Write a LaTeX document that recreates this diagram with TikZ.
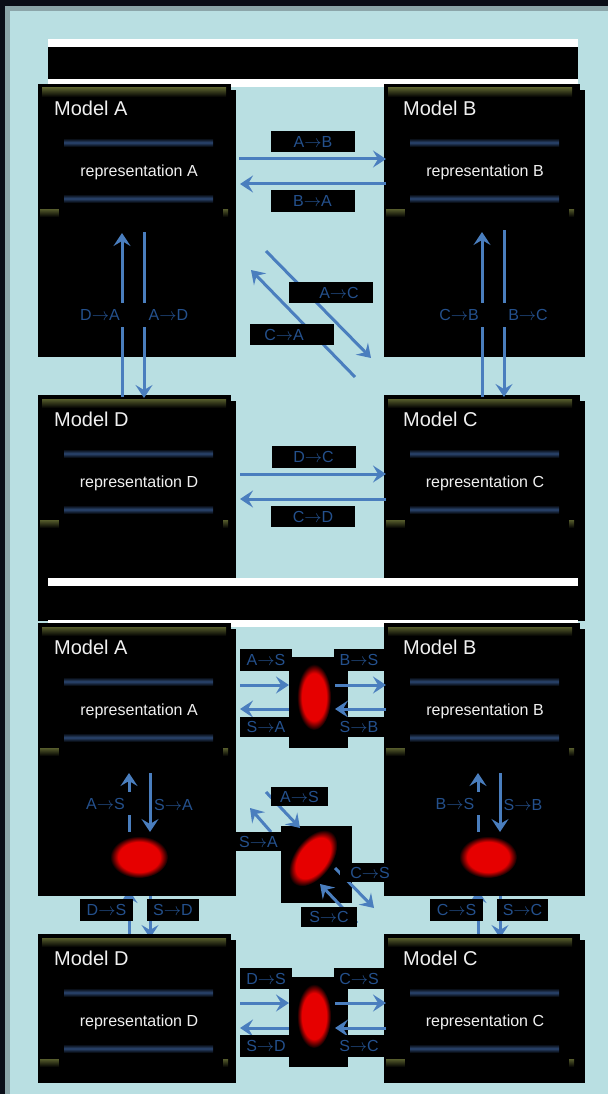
\documentclass[tikz,border=0pt]{standalone}
\usepackage{fontspec}
\setmainfont{Liberation Sans}
\usetikzlibrary{arrows.meta}
\definecolor{bgdark}{HTML}{0A0D17}
\definecolor{framec}{HTML}{8BA5A9}
\definecolor{paper}{HTML}{B9DFE2}
\definecolor{arrc}{HTML}{4A7EBE}
\definecolor{lblc}{HTML}{24508C}
\definecolor{olivec}{HTML}{565C2C}
\definecolor{glowc}{HTML}{2B4670}
\definecolor{redc}{HTML}{E60000}
\definecolor{textc}{HTML}{F0F0F0}
\pgfdeclareradialshading{redblur}{\pgfpoint{0bp}{0bp}}{color(0bp)=(redc); color(18bp)=(redc); color(25bp)=(black); color(50bp)=(black)}
\newcommand{\rarr}{\ensuremath{\rightarrow}}

\newcommand{\modelbox}[7]{% name, x0, y0, y1, width, title, representation
  \fill[black] (#2,#3) rectangle ++(#5-5,6);
  \node[mbox, anchor=north west, minimum width=#5pt, minimum height={((#4)-(#3)-6)*1pt}] (#1) at (#2,#3+6) {};
  \shade[top color=olivec, bottom color=black] (#2+4,#3+4) rectangle (#2+188,#3+13);
  \shade[top color=black, bottom color=black, middle color=glowc] (#2+26,#3+54) rectangle (#2+175,#3+63);
  \shade[top color=black, bottom color=black, middle color=glowc] (#2+26,#3+110) rectangle (#2+175,#3+119);
  \shade[top color=olivec, bottom color=black] (#2+2,#3+125) rectangle (#2+190,#3+133);
  \fill[black] (#2+21,#3+121) rectangle (#2+185,#3+140);
  \node[mtitle, anchor=west] (#1-t) at (#2+#5-182,#3+24) {#6};
  \node[mrep] (#1-r) at (#2+101,#3+88) {#7};
}
\newcommand{\conn}[3]{\coordinate (#1a) at (#2); \coordinate (#1b) at (#3); \draw[arr] (#1a) -- (#1b);}
\newcommand{\lab}[5]{\node[lbl, minimum width=#4pt, minimum height=#5pt] (#1) at (#2) {#3};}

\begin{document}
\begin{tikzpicture}[x=1pt,y=-1pt,
  mbox/.style={fill=black, draw=none, inner sep=0pt},
  mtitle/.style={text=textc, font=\fontsize{20}{24}\selectfont, inner sep=0pt},
  mrep/.style={text=textc, font=\fontsize{16}{19}\selectfont, inner sep=0pt},
  arr/.style={draw=arrc, line width=3pt, -{Stealth[length=13pt,width=17pt,inset=5pt]}},
  lbl/.style={fill=black, text=lblc, font=\fontsize{16}{18}\selectfont, inner sep=0pt},
  hub/.style={fill=black, draw=none, inner sep=0pt}]
\useasboundingbox (0,0) rectangle (608,1094);
% background
\fill[bgdark] (0,0) rectangle (608,1094);
\fill[framec] (5,6) rectangle (608,1094);
\fill[paper] (10,11) rectangle (608,1094);
% title bar 1
\fill[white] (48,39) rectangle (578,87);
\fill[black] (48,47) rectangle (578,79);
% upper models
\modelbox{A1}{38}{84}{357}{198}{Model A}{representation A}
\modelbox{B1}{384}{84}{357}{201}{Model B}{representation B}
\modelbox{D1}{38}{395}{621}{198}{Model D}{representation D}
\modelbox{C1}{384}{395}{621}{201}{Model C}{representation C}
% title bar 2
\fill[white] (48,578) rectangle (578,627);
\fill[black] (48,586) rectangle (578,620);
% arrows hidden partly under lower boxes
\conn{DS2}{129,940}{129,890}
\conn{SD2}{150,885}{150,938}
\conn{CS2}{478,940}{478,890}
\conn{SC2}{500,885}{500,938}
% lower models
\modelbox{A2}{38}{623}{896}{198}{Model A}{representation A}
\modelbox{B2}{384}{623}{896}{201}{Model B}{representation B}
\modelbox{D2}{38}{934}{1083}{198}{Model D}{representation D}
\modelbox{C2}{384}{934}{1083}{201}{Model C}{representation C}
% hubs
\node[hub, minimum width=59pt, minimum height=91pt] (S1) at (318.5,702.5) {};
\node[hub, minimum width=71pt, minimum height=77pt] (S2) at (316.5,864.5) {};
\node[hub, minimum width=59pt, minimum height=90pt] (S3) at (318.5,1022) {};
\shade[shading=redblur] (314,697) ellipse [x radius=17pt, y radius=33pt];
\shade[shading=redblur] (314,1016) ellipse [x radius=17pt, y radius=32pt];
\shade[shading=redblur] (139,857) ellipse [x radius=29pt, y radius=21pt];
\shade[shading=redblur] (488,857) ellipse [x radius=29pt, y radius=21pt];
\begin{scope}[transform canvas={shift={(313,858)},rotate=54}]
\shade[shading=redblur] (0,0) ellipse [x radius=32pt, y radius=19pt];
\end{scope}
% upper connectors
\conn{AB}{239,159}{386,159}
\conn{BA}{386,184}{240,184}
\conn{DA}{122,397}{122,233}
\conn{AD}{144,232}{144,398}
\conn{CB}{482,397}{482,232}
\conn{BC}{504,230}{504,397}
\conn{AC}{266,251}{371,358}
\conn{CA}{355,377}{251,270}
\conn{DC}{240,474}{386,474}
\conn{CD}{386,499}{240,499}
% lower connectors
\conn{AS1}{240,685}{289,685}
\conn{SA1}{289,709}{240,709}
\conn{BS1}{335,685}{386,685}
\conn{SB1}{386,709}{335,709}
\conn{AS2}{129,832}{129,773}
\conn{SA2}{150,773}{150,832}
\conn{BS2}{478,832}{478,773}
\conn{SB2}{500,773}{500,832}
\conn{AS3}{266,792}{300,828}
\conn{SA3}{271,832}{250,808}
\conn{CS3}{335,868}{374,908}
\conn{SC3}{357,923}{320,884}
\conn{DS4}{240,1003}{289,1003}
\conn{SD4}{289,1028}{240,1028}
\conn{CS4}{335,1003}{386,1003}
\conn{SC4}{386,1028}{335,1028}
% upper labels
\lab{lAB}{313,141.5}{A\rarr B}{84}{21}
\lab{lBA}{312.5,201}{B\rarr A}{84}{22}
\lab{lDA}{100,315}{D\rarr A}{52}{24}
\lab{lAD}{168.5,315}{A\rarr D}{56}{24}
\lab{lCB}{459,315}{C\rarr B}{52}{24}
\lab{lBC}{528,315}{B\rarr C}{54}{24}
\lab{lAC}{331,292.5}{\hspace*{16pt}A\rarr C}{84}{21}
\lab{lCA}{292,334.5}{C\rarr A\hspace*{16pt}}{84}{21}
\lab{lDC}{313.5,457}{D\rarr C}{84}{22}
\lab{lCD}{313,516.5}{C\rarr D}{84}{21}
% lower labels
\lab{lAS1}{266,660}{A\rarr S}{52}{22}
\lab{lSA1}{266,727}{S\rarr A}{52}{20}
\lab{lBS1}{359,660}{B\rarr S}{50}{22}
\lab{lSB1}{359,727}{S\rarr B}{50}{20}
\lab{lAS2}{105.5,803.5}{A\rarr S}{52}{23}
\lab{lSA2}{173.5,805}{S\rarr A}{40}{20}
\lab{lBS2}{455,803.5}{B\rarr S}{52}{23}
\lab{lSB2}{523,805}{S\rarr B}{40}{20}
\lab{lDS2}{106.5,910}{D\rarr S}{53}{22}
\lab{lSD2}{173,910}{S\rarr D}{52}{22}
\lab{lCS2}{456.5,910}{C\rarr S}{53}{22}
\lab{lSC2}{522.5,910}{S\rarr C}{51}{22}
\lab{lAS3}{299.5,796.5}{A\rarr S}{57}{19}
\lab{lSA3}{258.5,841.5}{S\rarr A}{47}{19}
\lab{lCS3}{365,872.5}{\hspace*{10pt}C\rarr S}{50}{19}
\lab{lSC3}{329,917}{S\rarr C}{56}{20}
\lab{lDS4}{266,978.5}{D\rarr S}{52}{21}
\lab{lSD4}{266,1046}{S\rarr D}{52}{22}
\lab{lCS4}{359,978.5}{C\rarr S}{50}{21}
\lab{lSC4}{359,1046}{S\rarr C}{50}{22}
\end{tikzpicture}
\end{document}
